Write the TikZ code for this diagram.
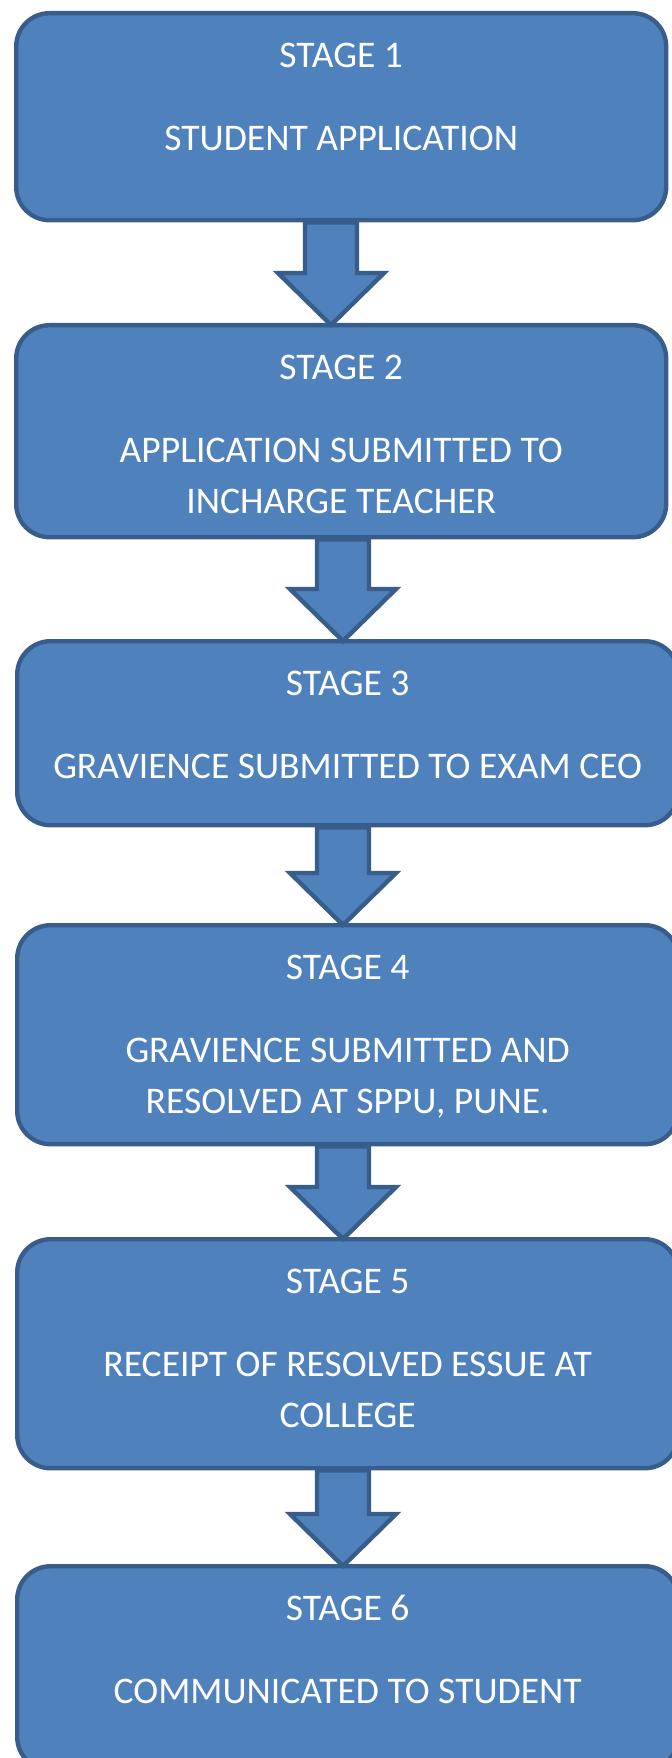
\documentclass[tikz,border=0pt]{standalone}
\usepackage{fontspec}
\setmainfont{Carlito}
\usetikzlibrary{positioning,calc}
\definecolor{stagefill}{HTML}{4F81BD}
\definecolor{stageline}{HTML}{385D8A}

\tikzset{
  stagebox/.style={draw=stageline,fill=stagefill,line width=3.3pt,rounded corners=25pt,
    inner sep=0pt,anchor=north west},
  stagetitle/.style={text=white,inner sep=0pt,font=\fontsize{28.2}{38.25}\selectfont},
  stagetext/.style={text=white,inner sep=0pt,anchor=north,align=center,
    font=\fontsize{28.2}{38.25}\selectfont},
  flowarrow/.style={draw=stageline,fill=stagefill,line width=3.3pt,line join=miter},
}

% block arrow from box #1 down to box #2, centred on coordinate #3
\newcommand{\stagearrow}[3]{%
  \draw[flowarrow] ($(#1.south -| #3)+(-26,0)$)
    -- ($(#2.north -| #3)+(-26,-50)$) -- ++(-27,0)
    -- ($(#2.north -| #3)+(0,2)$)
    -- ($(#2.north -| #3)+(53,-50)$) -- ++(-27,0)
    -- ($(#1.south -| #3)+(26,0)$) -- cycle;}

\begin{document}
\begin{tikzpicture}[x=0.75pt,y=-0.75pt]
  \useasboundingbox (0,0) rectangle (671,1758);

  % stage boxes
  \node[stagebox,minimum width=487.5pt,minimum height=155.25pt] (s1) at (14,11) {};
  \node[stagebox,minimum width=487.5pt,minimum height=159pt] (s2) at (14,323) {};
  \node[stagebox,minimum width=495.75pt,minimum height=138pt] (s3) at (15,639) {};
  \node[stagebox,minimum width=495.75pt,minimum height=164.25pt] (s4) at (15,923) {};
  \node[stagebox,minimum width=495.75pt,minimum height=171.75pt] (s5) at (15,1237) {};
  \node[stagebox,minimum width=495.75pt,minimum height=153pt] (s6) at (15,1564) {};

  % arrows
  \coordinate (ax1) at (331,0);
  \coordinate (ax2) at (343,0);
  \stagearrow{s1}{s2}{ax1}
  \stagearrow{s2}{s3}{ax2}
  \stagearrow{s3}{s4}{ax2}
  \stagearrow{s4}{s5}{ax2}
  \stagearrow{s5}{s6}{ax2}

  % labels
  \node[stagetitle] (t1) at ($(s1.north)+(0,44)$) {STAGE 1};
  \node[stagetext] (d1) at ($(s1.north)+(0,115)$) {STUDENT APPLICATION};
  \node[stagetitle] (t2) at ($(s2.north)+(0,44)$) {STAGE 2};
  \node[stagetext] (d2) at ($(s2.north)+(0,115)$) {APPLICATION SUBMITTED TO\\INCHARGE TEACHER};
  \node[stagetitle] (t3) at ($(s3.north)+(0,44)$) {STAGE 3};
  \node[stagetext] (d3) at ($(s3.north)+(0,115)$) {GRAVIENCE SUBMITTED TO EXAM CEO};
  \node[stagetitle] (t4) at ($(s4.north)+(0,44)$) {STAGE 4};
  \node[stagetext] (d4) at ($(s4.north)+(0,115)$) {GRAVIENCE SUBMITTED AND\\RESOLVED AT SPPU, PUNE.};
  \node[stagetitle] (t5) at ($(s5.north)+(0,44)$) {STAGE 5};
  \node[stagetext] (d5) at ($(s5.north)+(0,115)$) {RECEIPT OF RESOLVED ESSUE AT\\COLLEGE};
  \node[stagetitle] (t6) at ($(s6.north)+(0,44)$) {STAGE 6};
  \node[stagetext] (d6) at ($(s6.north)+(0,115)$) {COMMUNICATED TO STUDENT};
\end{tikzpicture}
\end{document}
